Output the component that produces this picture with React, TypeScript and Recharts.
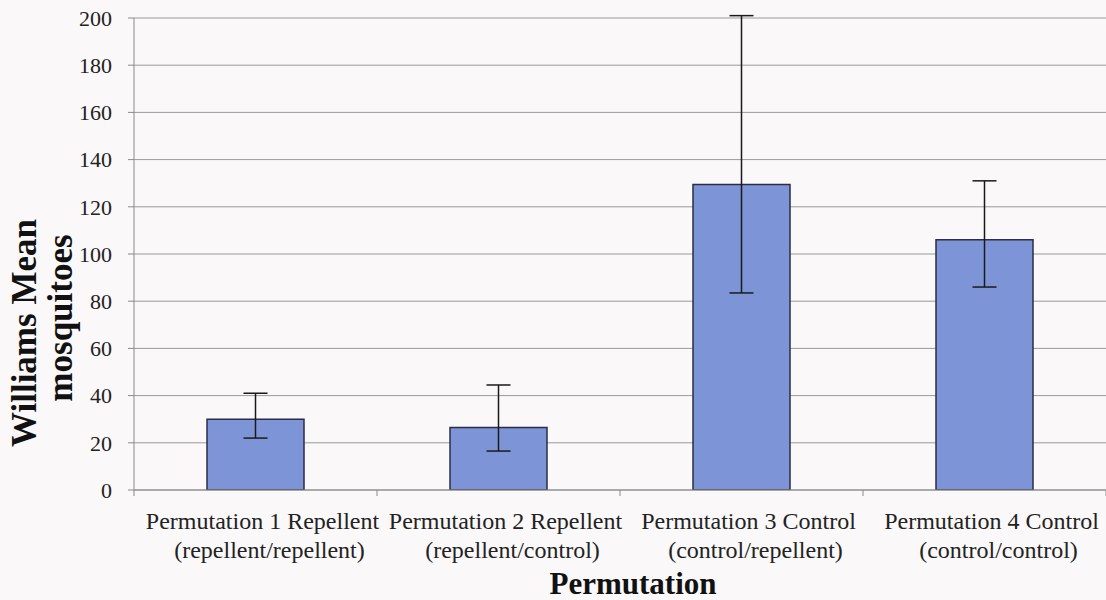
import React from 'react';
import { BarChart, Bar, XAxis, YAxis, CartesianGrid, ErrorBar } from 'recharts';

const catLine1 = ['Permutation 1 Repellent', 'Permutation 2 Repellent', 'Permutation 3 Control', 'Permutation 4 Control'];
const catLine2 = ['(repellent/repellent)', '(repellent/control)', '(control/repellent)', '(control/control)'];
const means = [30, 26.5, 129.5, 106];
const errLow = [8, 10, 46, 20];
const errHigh = [11, 18, 71.5, 25];
const yTicks = [0, 20, 40, 60, 80, 100, 120, 140, 160, 180, 200];

const data = catLine1.map((c, i) => ({ name: c, value: means[i], err: [errLow[i], errHigh[i]] }));

const FONT = '"Liberation Serif", "Times New Roman", serif';

const CatTick = (props: any) => {
  const { x, y, payload, index, width } = props;
  const band = (width || 972) / catLine1.length;
  const i = index ?? payload.index;
  return (
    <g>
      <line x1={x - band / 2} x2={x - band / 2} y1={y - 8} y2={y - 2} stroke="#8a8a8a" />
      {i === catLine1.length - 1 && (
        <line x1={x + band / 2} x2={x + band / 2} y1={y - 8} y2={y - 2} stroke="#8a8a8a" />
      )}
      <text x={x} y={y} textAnchor="middle" fontFamily={FONT} fontSize={24} fill="#222">
        <tspan x={x + 7} dy={31}>{catLine1[i]}</tspan>
        <tspan x={x + 14} dy={29}>{catLine2[i]}</tspan>
      </text>
    </g>
  );
};

const YLabel = () => (
  <g>
    <text transform="translate(36, 333) rotate(-90)" textAnchor="middle" fontFamily={FONT} fontSize={35} fontWeight="bold" fill="#111">
      Williams Mean
    </text>
    <text transform="translate(72, 318) rotate(-90)" textAnchor="middle" fontFamily={FONT} fontSize={35} fontWeight="bold" fill="#111">
      mosquitoes
    </text>
  </g>
);

const XLabel = (props: any) => {
  const vb = props.viewBox || { x: 134, width: 972 };
  return (
    <text x={vb.x + vb.width / 2 + 13} y={594} textAnchor="middle" fontFamily={FONT} fontSize={31} fontWeight="bold" fill="#111">
      Permutation
    </text>
  );
};

export default function App() {
  return (
    <div style={{ position: 'absolute', left: 0, top: 0, width: 1106, height: 600, background: '#faf8f9' }}>
      <BarChart width={1106} height={600} data={data} margin={{ top: 18, right: 0, bottom: 0, left: 0 }}>
        <CartesianGrid vertical={false} stroke="#9a9a9a" />
        <XAxis
          dataKey="name"
          interval={0}
          tickLine={false}
          axisLine={{ stroke: '#8a8a8a' }}
          tick={<CatTick />}
          height={110}
          label={<XLabel />}
        />
        <YAxis
          domain={[0, 200]}
          ticks={yTicks}
          allowDataOverflow
          width={134}
          tickSize={6}
          tickMargin={16}
          axisLine={{ stroke: '#8a8a8a' }}
          tickLine={{ stroke: '#8a8a8a' }}
          tick={{ fontFamily: FONT, fontSize: 22, fill: '#222' }}
          label={<YLabel />}
        />
        <Bar dataKey="value" fill="#7d95d6" stroke="#2b2d45" strokeWidth={1.5} barSize={97} isAnimationActive={false}>
          <ErrorBar dataKey="err" width={12} stroke="#1a1a1a" strokeWidth={1.5} />
        </Bar>
      </BarChart>
    </div>
  );
}
